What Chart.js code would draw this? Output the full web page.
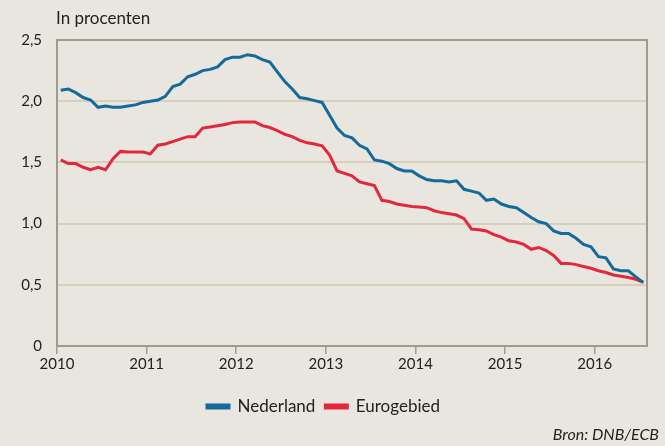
<!DOCTYPE html>
<html>
<head>
<meta charset="utf-8">
<script src="https://cdn.jsdelivr.net/npm/chart.js@4.4.1/dist/chart.umd.min.js"></script>
<style>
  html, body { margin: 0; padding: 0; background: #e8e6de; }
  #wrap { width: 665px; height: 446px; }
</style>
</head>
<body>
<div id="wrap"><canvas id="chart" width="665" height="446"></canvas></div>
<script>
// maandcijfers jan 2010 - jul 2016
const years = ['2010', '2011', '2012', '2013', '2014', '2015', '2016'];

const nederland = [
  2.09, 2.10, 2.07, 2.03, 2.01, 1.95, 1.96, 1.95, 1.95, 1.96, 1.97, 1.99,
  2.00, 2.01, 2.04, 2.12, 2.14, 2.20, 2.22, 2.25, 2.26, 2.28, 2.34, 2.36,
  2.36, 2.38, 2.37, 2.34, 2.32, 2.24, 2.16, 2.10, 2.03, 2.02, 2.005, 1.99,
  1.885, 1.78, 1.72, 1.70, 1.64, 1.61, 1.52, 1.51, 1.49, 1.45, 1.43, 1.43,
  1.39, 1.36, 1.35, 1.35, 1.34, 1.35, 1.28, 1.265, 1.25, 1.19, 1.20, 1.16,
  1.14, 1.13, 1.09, 1.05, 1.015, 1.00, 0.94, 0.92, 0.92, 0.88, 0.83, 0.81,
  0.73, 0.72, 0.63, 0.615, 0.615, 0.565, 0.52
];

const eurogebied = [
  1.52, 1.49, 1.49, 1.46, 1.44, 1.46, 1.44, 1.53, 1.59, 1.585, 1.585, 1.585,
  1.57, 1.64, 1.65, 1.67, 1.69, 1.71, 1.71, 1.78, 1.79, 1.80, 1.81, 1.825,
  1.83, 1.83, 1.83, 1.80, 1.785, 1.76, 1.73, 1.71, 1.68, 1.66, 1.65, 1.635,
  1.56, 1.43, 1.41, 1.39, 1.34, 1.325, 1.31, 1.19, 1.18, 1.16, 1.15, 1.14,
  1.135, 1.13, 1.105, 1.09, 1.08, 1.07, 1.04, 0.955, 0.95, 0.94, 0.91, 0.89,
  0.86, 0.85, 0.83, 0.79, 0.805, 0.78, 0.74, 0.675, 0.675, 0.665, 0.65, 0.635,
  0.615, 0.60, 0.58, 0.57, 0.56, 0.545, 0.52
];

const FONT = 'Lato';
const frameColor = '#a39b89';
const gridColor = '#d7cfbc';
const textColor = '#222222';

// punt midden in de maand
function toPoints(arr) {
  return arr.map((v, i) => ({ x: i + 0.5, y: v }));
}

const framePlugin = {
  id: 'frame',
  beforeDatasetsDraw(chart) {
    const a = chart.chartArea;
    const ctx = chart.ctx;
    ctx.save();
    ctx.strokeStyle = frameColor;
    ctx.lineWidth = 2;
    ctx.strokeRect(a.left, a.top, a.right - a.left, a.bottom - a.top);
    ctx.restore();
  },
  afterDraw(chart) {
    const ctx = chart.ctx;
    ctx.save();
    ctx.fillStyle = textColor;
    ctx.textBaseline = 'middle';
    ctx.textAlign = 'left';
    ctx.font = '17px ' + FONT;
    ctx.fillText('In procenten', 56, 19);
    ctx.textAlign = 'right';
    ctx.font = 'italic 16px ' + FONT;
    ctx.fillText('Bron: DNB/ECB', 659, 435);
    ctx.restore();
  }
};

new Chart(document.getElementById('chart'), {
  type: 'line',
  data: {
    datasets: [
      {
        label: 'Nederland',
        data: toPoints(nederland),
        borderColor: '#136a9b',
        backgroundColor: '#136a9b',
        borderWidth: 3,
        pointRadius: 0,
        fill: false
      },
      {
        label: 'Eurogebied',
        data: toPoints(eurogebied),
        borderColor: '#e4283b',
        backgroundColor: '#e4283b',
        borderWidth: 3,
        pointRadius: 0,
        fill: false
      }
    ]
  },
  options: {
    responsive: false,
    animation: false,
    devicePixelRatio: 1,
    layout: { padding: { top: 40, right: 18, left: 0, bottom: 21 } },
    plugins: {
      legend: {
        position: 'bottom',
        labels: {
          boxWidth: 22,
          boxHeight: 3,
          padding: 10,
          color: textColor,
          font: { family: FONT, size: 17 }
        }
      },
      tooltip: { enabled: false }
    },
    scales: {
      x: {
        type: 'linear',
        min: 0,
        max: 79,
        afterBuildTicks: s => { s.ticks = s.ticks.filter(t => t.value % 12 === 0); },
        afterFit: s => { s.height = 42; },
        ticks: {
          stepSize: 12,
          maxRotation: 0,
          padding: 1,
          color: textColor,
          font: { family: FONT, size: 15 },
          callback: v => years[v / 12] || ''
        },
        grid: {
          drawOnChartArea: false,
          drawTicks: true,
          tickLength: 8,
          color: frameColor,
          lineWidth: 1.5
        },
        border: { display: true, color: frameColor, width: 2 }
      },
      y: {
        min: 0,
        max: 2.5,
        afterFit: s => { s.width = 57; },
        ticks: {
          stepSize: 0.5,
          padding: 15,
          color: textColor,
          font: { family: FONT, size: 15 },
          callback: v => v === 0 ? '0' : v.toFixed(1).replace('.', ',')
        },
        grid: {
          drawTicks: false,
          color: gridColor,
          lineWidth: 2
        },
        border: { display: true, color: frameColor, width: 2 }
      }
    }
  },
  plugins: [framePlugin]
});
</script>
</body>
</html>
